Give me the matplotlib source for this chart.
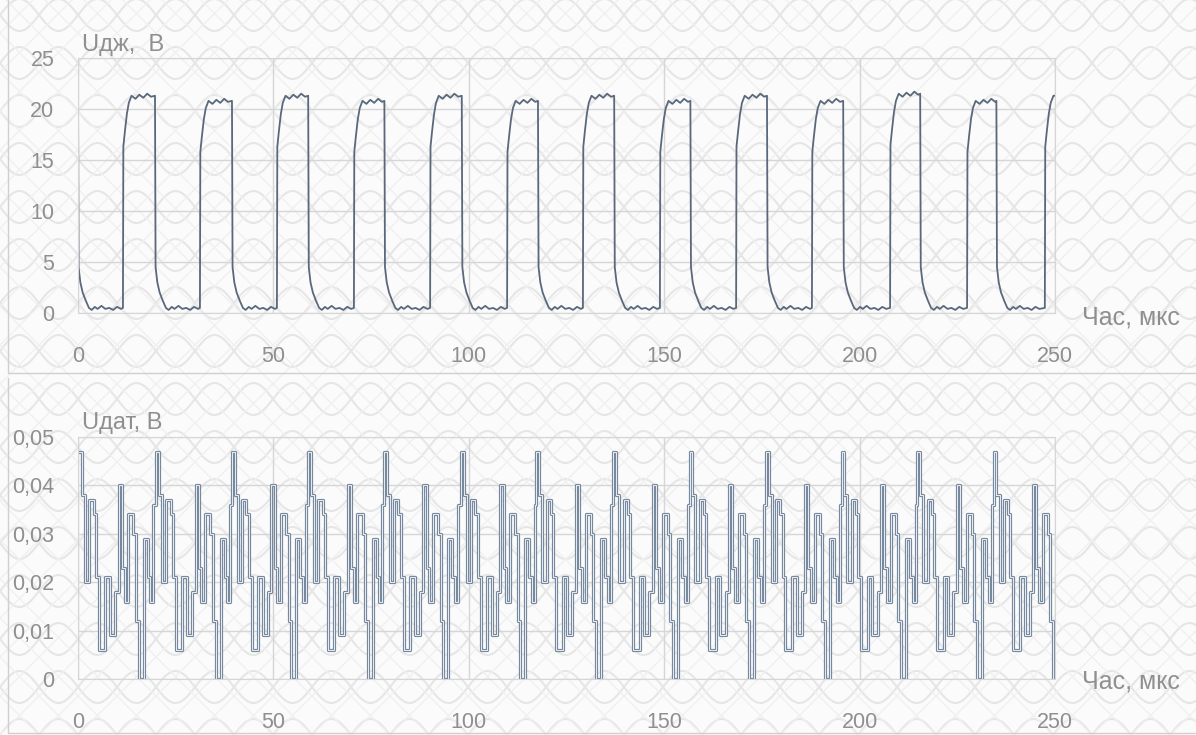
import numpy as np
import matplotlib
matplotlib.use("Agg")
import matplotlib.pyplot as plt

plt.rcParams['font.family'] = ['Liberation Sans', 'DejaVu Sans']

# ---- top panel: driver voltage, V ----
# falling and rising edge times (us)
fall_t = [0.0, 19.7, 39.4, 58.9, 78.4, 98.2, 117.7, 137.2, 156.7, 176.3, 195.8, 215.5, 235.0]
rise_t = [11.5, 31.2, 50.9, 70.6, 90.1, 109.8, 129.2, 148.9, 168.4, 187.8, 207.8, 227.5, 247.4]
high_v = [21.3, 20.8, 21.3, 20.8, 21.3, 20.8, 21.3, 20.8, 21.3, 20.8, 21.5, 20.8, 21.3]
# shape after a falling edge: (offset us, V)
fall_dt = [0.15, 0.6, 1.2, 2.0, 2.8, 3.5, 4.3, 5.0, 6.0, 7.0, 8.0, 9.0, 10.0, 11.0]
fall_v = [4.5, 3.0, 2.0, 1.2, 0.5, 0.3, 0.6, 0.4, 0.7, 0.4, 0.5, 0.3, 0.6, 0.4]
# shape after a rising edge: (offset us, V below the top level)
rise_dt = [0.1, 0.5, 1.0, 1.5, 2.2, 3.2, 4.2, 5.2, 6.2, 7.2]
rise_dv = [-5.0, -3.5, -1.8, -0.7, 0.0, -0.3, 0.1, -0.2, 0.2, -0.1]

# ---- bottom panel: sensor voltage, V ----
per_t = [0.3, 20.0, 39.4, 58.9, 78.3, 98.0, 117.3, 137.0, 156.5, 176.0, 195.4, 214.8, 234.3]
bot_dt = [0.0, 0.7, 1.5, 2.6, 3.7, 4.3, 5.0, 6.7, 7.9, 9.2, 10.1, 10.9, 11.6,
          12.6, 13.9, 14.5, 15.2, 16.5, 17.5, 18.2, 19.0]
bot_v = [0.047, 0.038, 0.020, 0.037, 0.034, 0.021, 0.006, 0.021, 0.009, 0.018, 0.040,
         0.023, 0.016, 0.034, 0.030, 0.012, 0.000, 0.029, 0.021, 0.016, 0.036]

top_x, top_y = [], []
for i, f in enumerate(fall_t):
    prev_h = high_v[i - 1] if i > 0 else 21.2
    top_x.append(f); top_y.append(prev_h)
    for dt, v in zip(fall_dt, fall_v):
        top_x.append(f + dt); top_y.append(v)
    r = rise_t[i]
    top_x.append(r); top_y.append(0.5)
    nxt = fall_t[i + 1] if i + 1 < len(fall_t) else 250.0
    for dt, dv in zip(rise_dt, rise_dv):
        if r + dt < nxt:
            top_x.append(r + dt); top_y.append(high_v[i] + dv)
top_x.append(250.0); top_y.append(high_v[-1])

bx, by = [], []
for p in per_t:
    for dt, v in zip(bot_dt, bot_v):
        if p + dt <= 250:
            bx.append(p + dt); by.append(v)
bx.append(250.0); by.append(0.011)

fig = plt.figure(figsize=(11.96, 7.35), dpi=100)
fig.patch.set_facecolor('#fbfbfb')

# faint watermark background
bg = fig.add_axes([0, 0, 1, 1])
bg.set_xlim(0, 1196); bg.set_ylim(0, 735); bg.axis('off')
xs = np.linspace(-50, 1250, 1200)
for k in range(-2, 18):
    for s in (1, -1):
        bg.plot(xs, k * 48 + s * 16 * np.sin(2 * np.pi * xs / 78), color='#e6e6e6', lw=1.5, zorder=0)
for k in range(-30, 40):
    bg.plot([k * 39, k * 39 + 735], [0, 735], color='#f0f0f0', lw=1.0, zorder=0)
    bg.plot([k * 39, k * 39 - 735], [0, 735], color='#f0f0f0', lw=1.0, zorder=0)
frame = '#cfcfcf'
bg.plot([8, 8, 1196], [735, 362, 362], color=frame, lw=1)
bg.plot([8, 8, 1196], [357, 2, 2], color=frame, lw=1)

grey = '#8f8f8f'
grid_c = '#d6d6d6'


def style(ax, xlim, ylim, yt, ylabels, pad_x):
    ax.set_facecolor('none')
    ax.set_xlim(*xlim); ax.set_ylim(*ylim)
    ax.set_xticks([0, 50, 100, 150, 200, 250])
    ax.set_yticks(yt)
    ax.set_yticklabels(ylabels)
    ax.grid(True, color=grid_c, lw=1)
    ax.tick_params(length=0, labelsize=15.5, colors=grey)
    ax.tick_params(axis='x', pad=pad_x)
    ax.tick_params(axis='y', pad=17)
    for sp in ax.spines.values():
        sp.set_color(grid_c)


ax1 = fig.add_axes([78 / 1196, 1 - 313 / 735, 977 / 1196, 255 / 735])
ax1.plot(top_x, top_y, color='#5a687c', lw=1.3)
style(ax1, (0, 250), (0, 25), [0, 5, 10, 15, 20, 25], ['0', '5', '10', '15', '20', '25'], 24)

ax2 = fig.add_axes([78 / 1196, 1 - 679 / 735, 977 / 1196, 242 / 735])
ax2.step(bx, by, where='post', color='#72849a', lw=2.3)
ax2.step(bx, by, where='post', color='#e4eaf1', lw=0.8)
style(ax2, (0, 250), (0, 0.05), [0, 0.01, 0.02, 0.03, 0.04, 0.05],
      ['0', '0,01', '0,02', '0,03', '0,04', '0,05'], 24)

fig.text(82 / 1196, 1 - 45 / 735, 'Uдж,  В', color=grey, fontsize=17, va='center')
fig.text(82 / 1196, 1 - 423 / 735, 'Uдат, В', color=grey, fontsize=17, va='center')
fig.text(1082 / 1196, 1 - 317 / 735, 'Час, мкс', color=grey, fontsize=18, va='center')
fig.text(1082 / 1196, 1 - 681 / 735, 'Час, мкс', color=grey, fontsize=18, va='center')

fig.savefig('out.png', dpi=100, facecolor=fig.get_facecolor())
